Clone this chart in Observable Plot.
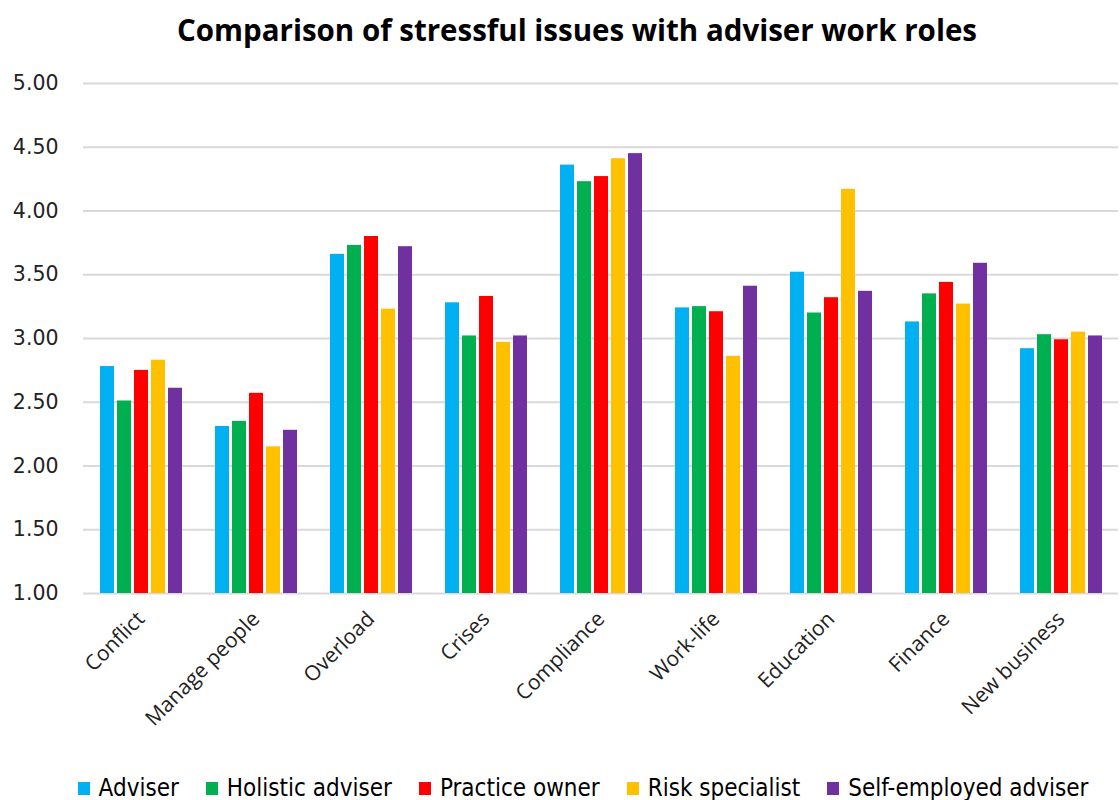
<!DOCTYPE html>
<html>
<head>
<meta charset="utf-8">
<script src="https://cdn.jsdelivr.net/npm/d3@7"></script>
<script src="https://cdn.jsdelivr.net/npm/@observablehq/plot@0.6"></script>
<style>
  body { margin: 0; background: #fff; font-family: "Open Sans", sans-serif; }
  #title { height: 60px; line-height: 60px; text-align: center; padding-left: 34px; font-weight: bold; font-size: 29.5px; color: #000; box-sizing: border-box; }
  #legend { display: flex; justify-content: center; gap: 27px; margin-top: 14px; padding-left: 46px; font-family: "Liberation Sans Narrow", "DejaVu Sans Condensed", sans-serif; font-size: 24px; line-height: 28px; color: #000; }
  #legend .item { display: flex; align-items: center; gap: 9px; }
  #legend .sw { width: 12px; height: 13px; display: inline-block; }
</style>
</head>
<body>
<div id="title">Comparison of stressful issues with adviser work roles</div>
<div id="chart"></div>
<div id="legend"></div>
<script>
const categories = ["Conflict", "Manage people", "Overload", "Crises", "Compliance", "Work-life", "Education", "Finance", "New business"];
const roles = ["Adviser", "Holistic adviser", "Practice owner", "Risk specialist", "Self-employed adviser"];
const roleColors = ["#00b0f0", "#00b050", "#ff0000", "#ffc000", "#7030a0"];
const adviser         = [2.78, 2.31, 3.66, 3.28, 4.36, 3.24, 3.52, 3.13, 2.92];
const holisticAdviser = [2.51, 2.35, 3.73, 3.02, 4.23, 3.25, 3.20, 3.35, 3.03];
const practiceOwner   = [2.75, 2.57, 3.80, 3.33, 4.27, 3.21, 3.32, 3.44, 2.99];
const riskSpecialist  = [2.83, 2.15, 3.23, 2.97, 4.41, 2.86, 4.17, 3.27, 3.05];
const selfEmployed    = [2.61, 2.28, 3.72, 3.02, 4.45, 3.41, 3.37, 3.59, 3.02];
const yTicks = [1.0, 1.5, 2.0, 2.5, 3.0, 3.5, 4.0, 4.5, 5.0];

const seriesValues = [adviser, holisticAdviser, practiceOwner, riskSpecialist, selfEmployed];
const data = [];
categories.forEach((c, i) => {
  roles.forEach((r, j) => {
    data.push({category: c, role: r, value: seriesValues[j][i]});
  });
});

const chart = Plot.plot({
  width: 1120,
  height: 700,
  marginLeft: 83,
  marginRight: 2,
  marginTop: 23,
  marginBottom: 167,
  style: {fontSize: "21px", fontFamily: "'Open Sans', sans-serif", color: "#222", background: "#fff"},
  fx: {domain: categories, padding: 0, label: null},
  x: {domain: roles, axis: null, paddingInner: 0.19, paddingOuter: 0.94},
  y: {domain: [1, 5], label: null},
  color: {domain: roles, range: roleColors},
  marks: [
    Plot.gridY(yTicks, {stroke: "#d9d9d9", strokeOpacity: 1, strokeWidth: 2}),
    Plot.axisY(yTicks, {tickSize: 0, tickPadding: 25, tickFormat: d => d.toFixed(2), label: null, fontSize: 20.5, fontFamily: "'DejaVu Sans', sans-serif"}),
    Plot.axisFx({anchor: "bottom", tickRotate: -45, tickSize: 0, tickPadding: 22, label: null, fontSize: 21}),
    Plot.barY(data, {fx: "category", x: "role", y1: 1, y2: "value", fill: "role"})
  ]
});
document.getElementById("chart").appendChild(chart);

const legend = document.getElementById("legend");
roles.forEach((r, i) => {
  const item = document.createElement("div");
  item.className = "item";
  const sw = document.createElement("span");
  sw.className = "sw";
  sw.style.background = roleColors[i];
  const t = document.createElement("span");
  t.textContent = r;
  item.appendChild(sw);
  item.appendChild(t);
  legend.appendChild(item);
});
</script>
</body>
</html>
